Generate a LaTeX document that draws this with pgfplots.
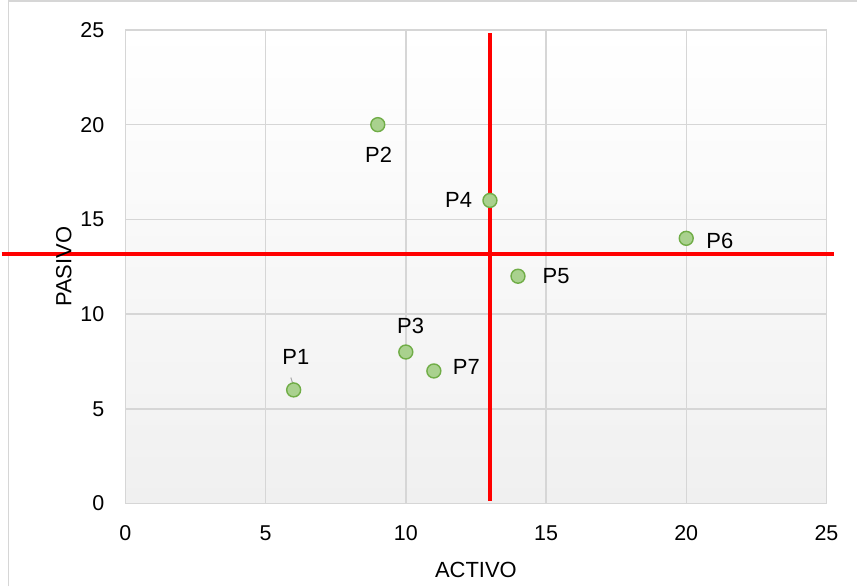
\documentclass[border=0pt]{standalone}
\usepackage{pgfplots}
\pgfplotsset{compat=1.18}
\usepackage{fontspec}
\setmainfont{Liberation Sans}
\definecolor{gridc}{RGB}{214,214,214}
\definecolor{mfill}{RGB}{169,209,142}
\definecolor{medge}{RGB}{112,173,71}
\definecolor{bgbot}{RGB}{240,240,240}
\begin{document}
\begin{tikzpicture}
\fill[white] (0,0) rectangle (858bp,588bp);
\draw[gridc, line width=1.3bp] (7bp,0) -- (7bp,587bp) -- (858bp,587bp);
\begin{axis}[
  at={(124bp,83bp)}, anchor=south west,
  scale only axis, width=703bp, height=475bp,
  xmin=0, xmax=25, ymin=0, ymax=25,
  xtick={0,5,...,25}, ytick={0,5,...,25},
  grid=major,
  grid style={gridc, line width=1.4bp},
  axis line style={gridc, line width=1.4bp},
  major tick length=0pt,
  axis background/.style={top color=white, bottom color=bgbot},
  font=\fontsize{22bp}{25bp}\selectfont,
  /pgf/number format/assume math mode=true,
  ticklabel style={font=\fontsize{21.5bp}{24bp}\selectfont},
  xticklabel style={anchor=center, yshift=-30bp},
  yticklabel style={anchor=east, inner sep=0pt, xshift=-21bp},
  xlabel={ACTIVO}, ylabel={PASIVO},
  xlabel style={at={(axis description cs:0.5,-0.141)}, anchor=center},
  ylabel style={at={(axis description cs:-0.088,0.5)}, anchor=center},
  clip=false,
]
\addplot[gray!70, line width=1bp] coordinates {(5.9,6.65) (6.04,6.0)};
\addplot[only marks, mark=*, mark size=7bp,
  mark options={fill=mfill, draw=medge, line width=1.4bp}]
  coordinates {(6,6) (9,20) (10,8) (13,16) (14,12) (20,14) (11,7)};
\addplot[red, line width=3.5bp] coordinates {(13,0.16) (13,24.84)};
\addplot[red, line width=3.5bp] coordinates {(-4.41,13.16) (25.28,13.16)};
\node at (axis cs:6.08,7.74) {P1};
\node at (axis cs:9.03,18.42) {P2};
\node at (axis cs:10.17,9.37) {P3};
\node at (axis cs:11.88,16.05) {P4};
\node at (axis cs:15.36,12.0) {P5};
\node at (axis cs:21.2,13.84) {P6};
\node at (axis cs:12.16,7.21) {P7};
\end{axis}
\useasboundingbox (0,0) rectangle (858bp,588bp);
\end{tikzpicture}
\end{document}
